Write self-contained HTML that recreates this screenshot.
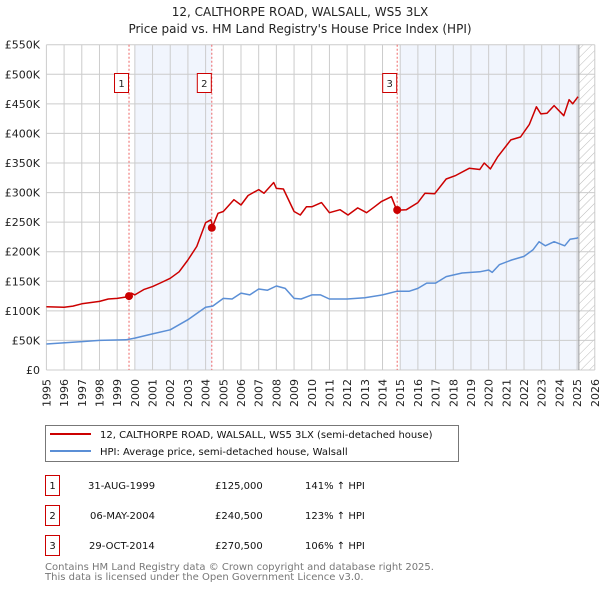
<!DOCTYPE html>
<html><head><meta charset="utf-8"><style>
body{margin:0;background:#fff;width:600px;height:590px;overflow:hidden}
svg{font-family:"DejaVu Sans","Liberation Sans",sans-serif}
</style></head><body>
<svg id="c" width="600" height="590" viewBox="0 0 600 590">
<defs><pattern id="hatch" width="6" height="6" patternUnits="userSpaceOnUse" patternTransform="rotate(45)"><line x1="0" y1="0" x2="0" y2="6" stroke="#bbb" stroke-width="1"/></pattern></defs>
<text x="300" y="16" text-anchor="middle" font-size="12" fill="#222">12, CALTHORPE ROAD, WALSALL, WS5 3LX</text>
<text x="300" y="33" text-anchor="middle" font-size="12" fill="#222">Price paid vs. HM Land Registry's House Price Index (HPI)</text>
<g id="plot"></g>
<g>
<rect x="45.5" y="425.5" width="413" height="36" fill="#fff" stroke="#777"/>
<line x1="50" y1="434" x2="91" y2="434" stroke="#cc0000" stroke-width="2"/>
<text x="100" y="438" font-size="10" fill="#111">12, CALTHORPE ROAD, WALSALL, WS5 3LX (semi-detached house)</text>
<line x1="50" y1="451" x2="91" y2="451" stroke="#5b8fd6" stroke-width="2"/>
<text x="100" y="455" font-size="10" fill="#111">HPI: Average price, semi-detached house, Walsall</text>
</g>
<g font-size="10" fill="#111">
<rect x="45.5" y="475.5" width="14" height="20" fill="none" stroke="#cc0000"/><text x="52.5" y="489" text-anchor="middle">1</text>
<text x="88" y="489">31-AUG-1999</text><text x="215" y="489">£125,000</text><text x="305" y="489">141% ↑ HPI</text>
<rect x="45.5" y="505.5" width="14" height="20" fill="none" stroke="#cc0000"/><text x="52.5" y="519" text-anchor="middle">2</text>
<text x="90" y="519">06-MAY-2004</text><text x="215" y="519">£240,500</text><text x="305" y="519">123% ↑ HPI</text>
<rect x="45.5" y="535.5" width="14" height="20" fill="none" stroke="#cc0000"/><text x="52.5" y="549" text-anchor="middle">3</text>
<text x="89" y="549">29-OCT-2014</text><text x="215" y="549">£270,500</text><text x="305" y="549">106% ↑ HPI</text>
</g>
<text x="45" y="570" font-size="10" fill="#777">Contains HM Land Registry data © Crown copyright and database right 2025.</text>
<text x="45" y="580" font-size="10" fill="#777">This data is licensed under the Open Government Licence v3.0.</text>
</svg>
<script>
const yTicks=[0,50,100,150,200,250,300,350,400,450,500,550];
const yTickLabels=["£0","£50K","£100K","£150K","£200K","£250K","£300K","£350K","£400K","£450K","£500K","£550K"];
const years=[1995,1996,1997,1998,1999,2000,2001,2002,2003,2004,2005,2006,2007,2008,2009,2010,2011,2012,2013,2014,2015,2016,2017,2018,2019,2020,2021,2022,2023,2024,2025,2026];
const redT=[1995,1996,1996.5,1997,1998,1998.5,1999,1999.6,1999.8,2000,2000.5,2001,2001.5,2002,2002.5,2003,2003.5,2004,2004.3,2004.4,2004.7,2005,2005.6,2006,2006.4,2007,2007.3,2007.85,2008,2008.4,2009,2009.35,2009.7,2010,2010.55,2011,2011.6,2012.05,2012.6,2013.1,2013.55,2013.95,2014.5,2014.65,2014.8,2015.35,2016,2016.4,2016.95,2017.6,2018.15,2018.9,2019.5,2019.75,2020.1,2020.5,2021.25,2021.8,2022.3,2022.7,2022.95,2023.3,2023.7,2024.25,2024.55,2024.75,2025.0,2025.05];
const redV=[107,106,108,112,116,120,121,124,130,127,136,141,148,155,166,186,209,249,254,243,265,268,288,279,295,305,299,317,307,306,268,262,276,276,283,266,271,262,274,266,276,285,293,282,270,271,283,299,298,323,329,341,339,350,340,360,389,394,415,445,433,434,447,430,457,450,460,462];
const blueT=[1995,1997,1998,1999.5,2000,2001,2002,2003,2004,2004.4,2005,2005.5,2006,2006.5,2007,2007.5,2008,2008.5,2009,2009.4,2010,2010.5,2011,2012,2013,2014,2014.8,2015.5,2016,2016.5,2017,2017.6,2018.5,2019.5,2020,2020.2,2020.6,2021.3,2022,2022.5,2022.85,2023.2,2023.7,2024.3,2024.6,2025,2025.05];
const blueV=[44,48,50,51,54,61,68,85,106,108,121,120,130,127,137,135,142,138,121,120,127,127,120,120,122,127,133,133,138,147,147,158,164,166,169,165,178,186,192,203,217,210,217,210,221,223,224];
const saleT=[1999.67,2004.35,2014.83];
const saleV=[125,240.5,270.5];
const saleLabels=["1","2","3"];
const NS="http://www.w3.org/2000/svg";
const X0=46.4,XS=17.69,Y0=370,YS=325.3/550;
const xs=t=>X0+(t-1995)*XS, ys=v=>Y0-v*YS;
const g=document.getElementById('plot');
function mk(tag,at){const e=document.createElementNS(NS,tag);for(const k in at)e.setAttribute(k,at[k]);g.appendChild(e);return e;}
const dataEnd=2025.1;
let r=mk('rect',{x:xs(2000),y:ys(550),width:xs(saleT[1])-xs(2000),height:Y0-ys(550),fill:'#eef3fc',opacity:0.8});


r=mk('rect',{x:xs(2015),y:ys(550),width:xs(dataEnd)-xs(2015),height:Y0-ys(550),fill:'#eef3fc',opacity:0.8});


r=mk('rect',{x:xs(dataEnd),y:ys(550),width:xs(2026)-xs(dataEnd),height:Y0-ys(550),fill:'url(#hatch)'});


years.forEach(y=>{const l=mk('line',{x1:xs(y),x2:xs(y),y1:ys(550),y2:Y0,stroke:'#ccc'});


const t=mk('text',{x:0,y:0,transform:`translate(${xs(y)+4},379) rotate(-90)`,'text-anchor':'end','font-size':'11',fill:'#222'});t.textContent=y;

});
yTicks.forEach((v,i)=>{const l=mk('line',{x1:xs(1995),x2:xs(2026),y1:ys(v),y2:ys(v),stroke:'#ccc'});


const t=mk('text',{x:40,y:ys(v)+4,'text-anchor':'end','font-size':'11',fill:'#222'});t.textContent=yTickLabels[i];

});
let el=mk('line',{x1:xs(dataEnd),x2:xs(dataEnd),y1:ys(550),y2:Y0,stroke:'#999','stroke-width':1});


saleT.forEach((t,i)=>{const l=mk('line',{x1:xs(t),x2:xs(t),y1:ys(550),y2:Y0,stroke:'#e66','stroke-dasharray':'2,2'});


const b=mk('rect',{x:xs(t)-14.5,y:73.5,width:14,height:19,fill:'#fff',stroke:'#cc0000'});


const tx=mk('text',{x:xs(t)-7.5,y:87,'text-anchor':'middle','font-size':'10',fill:'#222'});tx.textContent=saleLabels[i];

});
function line(T,V,col,name){const d=T.map((t,i)=>(i?'L':'M')+xs(t).toFixed(1)+','+ys(V[i]).toFixed(1)).join('');
const p=mk('path',{d,fill:'none',stroke:col,'stroke-width':1.5,'stroke-linejoin':'round'});

}
line(blueT,blueV,'#5b8fd6','hpi-line');
line(redT,redV,'#cc0000','property-line');
saleT.forEach((t,i)=>{const c=mk('circle',{cx:xs(t),cy:ys(saleV[i]),r:4,fill:'#cc0000'});

});
</script>
</body></html>
